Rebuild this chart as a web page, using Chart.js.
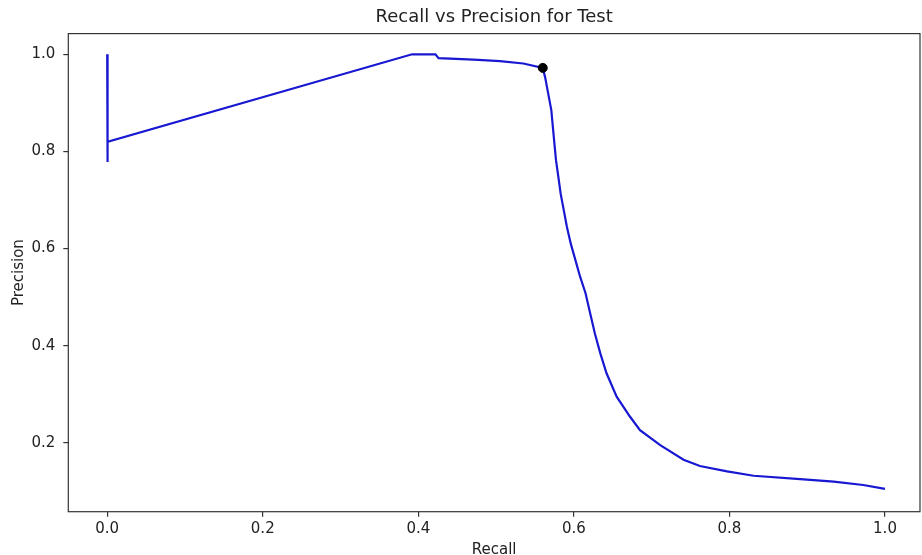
<!DOCTYPE html>
<html>
<head>
    <title>Recall vs Precision for Test</title>
    <script src="https://cdn.jsdelivr.net/npm/chart.js"></script>
    <style>
        body { margin: 0; background: #fff; }
        canvas { display: block; }
    </style>
</head>
<body>
    <canvas id="pr-chart" width="922" height="555"></canvas>

    <script>
        // Precision-recall curve points (recall on x, precision on y)
        const recall = [
            0.000, 0.000, 0.001, 0.392, 0.422, 0.426, 0.471, 0.505, 0.535, 0.560,
            0.563, 0.567, 0.571, 0.573, 0.575, 0.577, 0.580, 0.583, 0.587, 0.591,
            0.596, 0.602, 0.608, 0.615, 0.621, 0.627, 0.634, 0.642, 0.655, 0.672,
            0.685, 0.711, 0.741, 0.762, 0.797, 0.831, 0.891, 0.934, 0.972, 1.000
        ];
        const precision = [
            1.000, 0.778, 0.820, 1.000, 1.000, 0.992, 0.989, 0.986, 0.981, 0.972,
            0.953, 0.919, 0.885, 0.850, 0.816, 0.782, 0.748, 0.713, 0.679, 0.645,
            0.610, 0.576, 0.542, 0.508, 0.466, 0.425, 0.384, 0.343, 0.295, 0.254,
            0.226, 0.195, 0.165, 0.152, 0.141, 0.132, 0.125, 0.120, 0.113, 0.105
        ];

        // Highlighted operating point
        const bestRecall = [0.560];
        const bestPrecision = [0.972];

        // Axis ticks
        const xTickValues = [0.0, 0.2, 0.4, 0.6, 0.8, 1.0];
        const xTickLabels = ['0.0', '0.2', '0.4', '0.6', '0.8', '1.0'];
        const yTickValues = [0.2, 0.4, 0.6, 0.8, 1.0];
        const yTickLabels = ['0.2', '0.4', '0.6', '0.8', '1.0'];

        const font = 'DejaVu Sans';
        const inkColor = '#333333';

        // Draws the full box around the plot area
        const frameBox = {
            id: 'frameBox',
            afterDraw(chart) {
                const { ctx, chartArea } = chart;
                ctx.save();
                ctx.strokeStyle = inkColor;
                ctx.lineWidth = 1.2;
                ctx.strokeRect(chartArea.left, chartArea.top,
                    chartArea.right - chartArea.left, chartArea.bottom - chartArea.top);
                ctx.restore();
            }
        };

        const toPoints = (xs, ys) => xs.map((x, i) => ({ x: x, y: ys[i] }));

        new Chart(document.getElementById('pr-chart'), {
            type: 'scatter',
            data: {
                datasets: [
                    {
                        data: toPoints(bestRecall, bestPrecision),
                        backgroundColor: '#000000',
                        borderColor: '#000000',
                        pointRadius: 4.5,
                        showLine: false
                    },
                    {
                        data: toPoints(recall, precision),
                        borderColor: '#1818d2',
                        borderWidth: 2.2,
                        pointRadius: 0,
                        showLine: true,
                        tension: 0
                    }
                ]
            },
            options: {
                responsive: false,
                animation: false,
                devicePixelRatio: 1,
                layout: {
                    autoPadding: false,
                    padding: { left: 0, right: 2, top: 0, bottom: 0 }
                },
                plugins: {
                    legend: { display: false },
                    tooltip: { enabled: false },
                    title: {
                        display: true,
                        text: 'Recall vs Precision for Test',
                        fullSize: false,
                        color: '#222222',
                        font: { family: font, size: 18, weight: 'normal', lineHeight: 1.2 },
                        padding: { top: 7, bottom: 5 }
                    }
                },
                scales: {
                    x: {
                        type: 'linear',
                        min: -0.05,
                        max: 1.045,
                        afterFit(scale) {
                            scale.height = 43.3;
                            scale.paddingLeft = 0;
                            scale.paddingRight = 0;
                        },
                        afterBuildTicks(scale) {
                            scale.ticks = xTickValues.map(v => ({ value: v }));
                        },
                        grid: {
                            drawOnChartArea: false,
                            drawTicks: true,
                            tickLength: 5,
                            color: inkColor,
                            lineWidth: 1.2
                        },
                        border: { display: false },
                        ticks: {
                            autoSkip: false,
                            maxRotation: 0,
                            padding: 3,
                            color: '#222222',
                            font: { family: font, size: 15 },
                            callback: (value, index) => xTickLabels[index]
                        },
                        title: {
                            display: true,
                            text: 'Recall',
                            color: '#222222',
                            font: { family: font, size: 15, lineHeight: 1 },
                            padding: { top: 0, bottom: -3 }
                        }
                    },
                    y: {
                        type: 'linear',
                        min: 0.058,
                        max: 1.0426,
                        afterFit(scale) { scale.width = 68.3; },
                        afterBuildTicks(scale) {
                            scale.ticks = yTickValues.map(v => ({ value: v }));
                        },
                        grid: {
                            drawOnChartArea: false,
                            drawTicks: true,
                            tickLength: 5,
                            color: inkColor,
                            lineWidth: 1.2
                        },
                        border: { display: false },
                        ticks: {
                            autoSkip: false,
                            padding: 8,
                            color: '#222222',
                            font: { family: font, size: 15 },
                            callback: (value, index) => yTickLabels[index]
                        },
                        title: {
                            display: true,
                            text: 'Precision',
                            color: '#222222',
                            font: { family: font, size: 15, lineHeight: 1 },
                            padding: { top: 12, bottom: 0 }
                        }
                    }
                }
            },
            plugins: [frameBox]
        });
    </script>
</body>
</html>
